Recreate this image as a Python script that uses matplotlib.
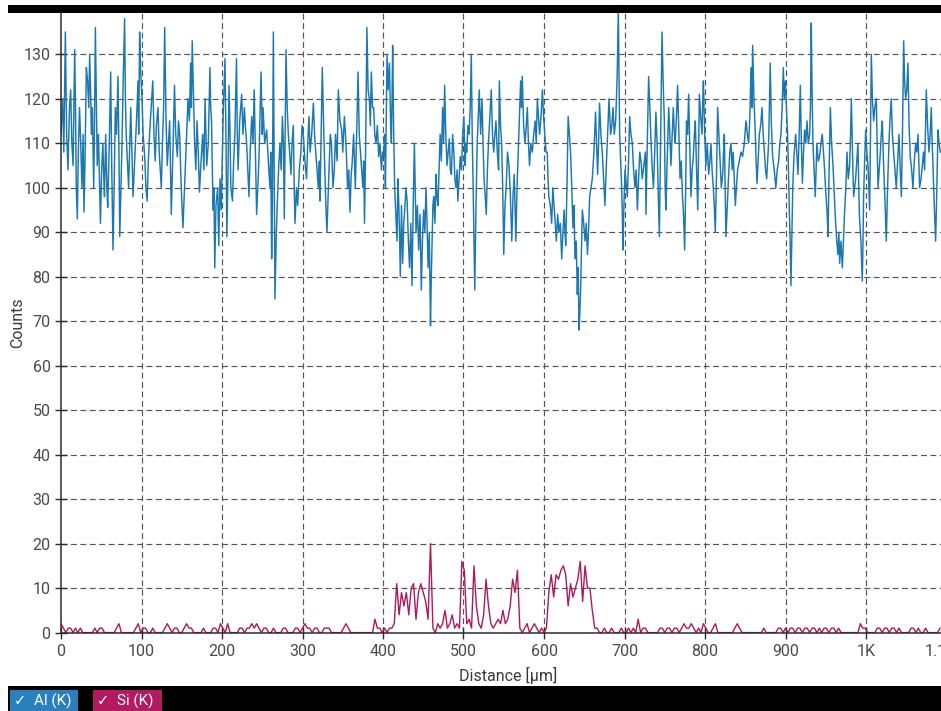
import matplotlib
matplotlib.use("Agg")
import matplotlib.pyplot as plt
from matplotlib.patches import Rectangle
from matplotlib.ticker import FixedLocator
from matplotlib.transforms import ScaledTranslation
import numpy as np

plt.rcParams["font.family"] = ["Roboto", "DejaVu Sans"]

# ---- Al (K) line profile: distance [µm] and counts -------------------------
al_distance = [
    0, 2, 3.5, 5.4, 7, 8.7, 10.5, 12, 13.5, 15,
    17, 18, 19, 20.3, 21.5, 23, 24.5, 26, 27.5, 28.6,
    30, 31.5, 33, 34.5, 35.6, 37, 37.7, 39, 40.6, 41.5,
    42.7, 44, 45, 46.5, 48, 49, 50.5, 52, 53, 54,
    55.5, 57, 58, 60, 61.7, 63, 64.6, 66, 67.5, 69,
    70.8, 72, 73, 74.5, 75.8, 77, 79, 80, 81, 82.5,
    84, 85.5, 86.6, 88, 89.5, 91, 92.4, 94, 95.7, 96.5,
    97.7, 99, 100.6, 102, 104, 105.5, 107, 108.5, 110, 112,
    114, 115.5, 117, 118.5, 120.5, 122, 124.6, 126, 127.5, 128.8,
    130.5, 132, 133.5, 135, 136, 137, 139, 141, 142.5, 144.5,
    146, 147.4, 149, 150.5, 151.5, 153, 154.5, 156, 157.8, 159.5,
    161, 162, 163, 164.5, 166, 167.5, 169, 170.5, 172, 174,
    176, 177.5,
    179, 181, 183, 185, 186, 187, 188, 189, 190, 191,
    192.5, 194.6, 196, 197.5, 199, 200.5, 201.7, 203.7, 205, 206,
    207.5, 208.7, 210, 211, 213, 214.5, 216, 217, 218, 219,
    220, 222, 224.4, 226, 227.8, 229, 230.6, 232, 233.5, 235,
    236.9, 238.5, 240, 241.5, 243, 244.5, 246, 247.5, 248.5, 250,
    251, 253, 255.5, 257.5, 259.6, 260.5, 261.7, 262.5, 263.8, 264.8,
    265.8, 267.5, 269, 270.5, 272, 273.5, 275, 276.3, 277.4, 278.5,
    279.5, 281, 282.4, 284, 285.7, 287, 288.6, 289.7, 290.7, 292.5,
    294, 296, 298, 299.5, 301, 303, 305, 306.5, 308, 309.5,
    311.4, 313.5, 315, 316.4, 318, 319.7, 321, 321.7, 323, 324.6,
    326.5, 328, 329, 330.4, 331.8, 333, 334.5, 336, 337.8, 339.5,
    341, 343, 344.5, 346.5, 348.6, 350, 352, 354, 356, 357.5,
    359, 360.5,
    361.5, 363.5, 365.6, 367, 369, 370.5, 372, 373.5, 375, 376,
    377, 378.5, 380, 381.5, 383, 384.3, 385.5, 387, 388.4, 389.8,
    391.3, 393, 394.6, 396.3, 398, 399.5, 401, 402, 403, 404,
    405, 406.5, 408, 409.3, 410.4, 411.2, 412, 413.3, 414.5, 416,
    417.4, 418.5, 419.5, 420.5, 421.5, 423, 424.4, 425.8, 427, 428.5,
    430, 431.5, 433, 434.5, 436, 437.5, 439, 440, 441, 442.7,
    444.3, 446, 447.6, 449, 450.5, 452, 453.4, 454.7, 456, 457.5,
    459, 460, 461, 462, 463, 464.5, 466, 467, 468.3, 469.7,
    471, 472.5, 474, 475.3, 476.6, 478, 479.5, 481, 482.4, 483.7,
    485, 486.5, 488, 489.3, 490.7, 492, 493, 494.5, 496, 497.5,
    499, 500.5, 502, 503, 504, 505.5, 507, 508.3, 509.7, 510.8,
    512, 513, 514, 515.5, 517, 518.3, 519.6, 521.3, 523, 524.3,
    525.5, 527, 528.3, 529.7, 531, 532.7, 534.5, 536, 537.5, 539,
    540.3, 542, 543.6,
    544.5, 546, 547.4, 548.7, 550, 551.5, 553, 554.7, 556.5, 558.3,
    560, 561.5, 563, 564, 565, 566.5, 568, 569.5, 571, 572,
    573, 574.7, 576.4, 578, 579.3, 580.7, 582, 583.7, 585.5, 587.2,
    589, 590.4, 591.7, 593.2, 594.6, 596.3, 598, 599.5, 601, 602.5,
    604, 605, 606, 607.8, 609.5, 611, 612.4, 614, 615.3, 617,
    618.6, 620.3, 622, 623.5, 625, 626, 627, 628.5, 630, 631.5,
    633, 634.5, 636, 637.3, 638.5, 640, 641.4, 642.5, 643.5, 644.5,
    645.5, 646.5, 647.6, 649.3, 651, 652.5, 654, 655.3, 656.7, 658.3,
    660, 662, 664, 665.3, 666.6, 667.8, 669, 670.7, 672.4, 674,
    675.7, 677.2, 678.6, 679.7, 680.7, 681.8, 682.8, 684.3, 685.7, 687.3,
    689, 690, 691, 692.3, 693.2, 694, 695.3, 696.5, 697.3, 698,
    699.3, 700.6, 702, 703.5, 705, 706.4, 708, 709.7, 711.3, 713,
    714.5, 716, 717.5, 719, 720.5, 722, 724, 726,
    726.7, 728.3, 730, 731.5, 733, 734.5, 736, 737.5, 739, 740.5,
    742, 743.3, 745, 746.6, 748, 749.5, 750.5, 751.5, 753, 754.9,
    756.3, 757.7, 759.2, 760.6, 762, 763, 764.5, 766, 767.5, 769,
    770.5, 772, 773.3, 774.7, 776, 777, 778.3, 779.7, 781, 782.6,
    784, 785.5, 786.8, 788, 789.5, 791, 792, 793, 794.6, 796.3,
    797, 798, 799.6, 801.2, 802.8, 804.5, 806, 807.4, 808.8, 810.3,
    811.5, 812.8, 814.2, 815.7, 817.2, 818.6, 820.3, 822, 823, 824,
    825, 826, 827.7, 829.4, 830.8, 832.3, 833.7, 835, 836.3, 837.7,
    839, 840.5, 842.6, 844.7, 846.7, 848.8, 850, 851, 852.6, 854.2,
    855.7, 857.1, 858.2, 859.2, 860.8, 862.5, 863.5, 864.6, 866, 867.5,
    869.2, 870.8, 872.3, 873.7, 875.2, 876.6, 877.8, 879, 880, 881,
    882.5, 884, 886, 888, 889.7, 891.5, 893, 894.4, 895.8, 897.3,
    898.5, 899.8, 901.2, 902.6, 903.7, 904.7, 905.8, 906.8, 908, 909,
    910.5, 912.6, 914, 915.5, 917, 918.4, 919.7, 921, 922.4, 923.8,
    925.2, 926.7, 928.3, 930, 931, 932, 933, 934.1, 935.5, 937,
    938, 939, 940.7, 942.4, 944, 945.7, 947.2, 948.6, 949.7, 950.7,
    951.8, 952.8, 954.2, 955.7, 957.3, 959, 960.7, 962.3, 963.7, 965.2,
    966.3, 967.3, 968.9, 970.6, 972, 973.5, 975, 976.4, 978, 979.7,
    980.8, 981.8, 983.2, 984.6, 985.8, 987.1, 988.5, 990, 991, 992,
    993.7, 995.4, 996.3, 997, 998.3, 999.6, 1001, 1002.5, 1003.5, 1004.5,
    1005.5, 1006.6, 1008, 1009.5, 1011, 1012.8, 1014, 1015, 1016.4, 1017.8,
    1019, 1020.3, 1021.7, 1023, 1024, 1025.2, 1026.8, 1028.5, 1030, 1031.4,
    1032.8, 1034.3, 1036, 1037.6, 1039.3, 1041, 1042.5, 1043.9, 1045.3, 1046.8,
    1048, 1049.2, 1050.7, 1052.1, 1053.5, 1055, 1056.7, 1058.3, 1060, 1061.7,
    1063.2, 1064.6, 1065.6, 1066.6, 1068.3, 1070, 1071.4, 1072.8, 1073.8, 1074.9,
    1076.5, 1078.2, 1079.7, 1081.1, 1082.2, 1083.2, 1084.8, 1086.5, 1088, 1089.4,
    1090.8, 1092.3,
]

al_counts = [
    112, 120, 108, 135, 112, 104, 118, 122, 110, 105,
    131, 118, 100, 93, 108, 118, 110, 100, 112, 94.5,
    108, 127, 124, 118, 130, 120, 112, 118, 100, 112,
    136, 118, 105, 112, 100, 92, 104, 110, 103, 98,
    112, 100, 95.6, 110, 126, 105, 86, 100, 118, 112,
    125, 108, 89, 100, 110, 122, 138, 120, 112, 106,
    100, 110, 118, 108, 98, 104, 110, 116, 124, 112,
    135, 126, 120, 112, 107, 100, 97, 106, 112, 118,
    124, 112, 106, 114, 118, 108, 100, 110, 118, 136,
    115, 105, 110, 115, 104, 94, 108, 123, 112, 107,
    115, 112, 102, 95, 91, 98, 105, 112, 120, 115,
    128, 118, 133, 122, 110, 104, 115, 108, 99, 106,
    112, 104,
    120, 105, 110, 127, 118, 115, 104, 95, 100, 82,
    96, 100, 87, 102, 95, 108, 118, 129, 110, 89,
    104, 123, 112, 100, 97, 106, 112, 120, 129, 112,
    104, 115, 121, 112, 118, 114, 110, 104, 98, 108,
    116, 110, 122, 108, 94, 100, 107, 118, 126, 112,
    118, 110, 113, 106, 100, 108, 84, 96, 135, 104,
    75, 90, 98, 105, 110, 104, 116, 110, 93, 112,
    131, 118, 112, 108, 103, 110, 114, 100, 92, 100,
    96, 104, 108, 114, 112, 106, 102, 110, 116, 108,
    112, 119, 112, 108, 104, 100, 106, 97, 110, 127,
    112, 102, 96, 90, 98, 104, 112, 110, 100, 104,
    112, 106, 122, 115, 113, 108, 116, 110, 100, 104,
    94.5, 103,
    105, 112, 100, 110, 126, 112, 108, 104, 100, 106,
    92, 110, 136, 122, 120, 114, 126, 118, 118, 112,
    110, 114, 107, 110, 104, 108, 107, 112, 100, 116,
    130, 122, 128, 116, 110, 120, 132, 112, 100, 94,
    88, 102, 97, 90, 80, 96, 83, 92, 95, 100,
    97, 88, 82, 92, 78, 96, 110, 100, 90, 96,
    86, 94, 77, 88, 95, 90, 100, 92, 82, 90,
    69, 80, 88, 96, 98, 92, 103, 98, 96, 104,
    112, 106, 118, 110, 123, 112, 105, 108, 111, 104,
    103, 112, 108, 102, 100, 104, 97, 102, 107, 104,
    112, 116, 105, 110, 108, 114, 112, 118, 130, 112,
    100, 88, 77, 96, 110, 116, 122, 112, 120, 110,
    102, 98, 94, 104, 110, 116, 122, 112, 108, 112,
    115, 108, 104,
    124, 114, 110, 100, 85, 96, 100, 108, 105, 98,
    88, 98, 103, 96, 88, 100, 108, 116, 124, 118,
    125, 114, 110, 114, 118, 110, 105, 110, 108, 112,
    115, 110, 120, 116, 112, 116, 122, 116, 112, 108,
    108, 102, 98, 96, 92, 100, 96, 92, 88, 94,
    90, 92, 84, 90, 95, 90, 87, 100, 116, 112,
    108, 100, 91, 96, 84, 88, 76, 82, 68, 72,
    77, 86, 95, 92, 88, 92, 85, 90, 98, 100,
    102, 108, 117, 110, 103, 110, 119, 112, 108, 102,
    96, 104, 110, 115, 120, 116, 112, 114, 118, 112,
    115, 120, 126, 140, 124, 112, 106, 100, 94, 86,
    96, 104, 101, 98, 106, 116, 112, 110, 104, 100,
    104, 95, 102, 108, 106, 102, 105, 108,
    94, 110, 125, 118, 110, 104, 100, 108, 117, 110,
    98, 89, 112, 135, 124, 115, 100, 95, 106, 118,
    112, 105, 112, 118, 112, 110, 116, 123, 112, 102,
    106, 98, 94, 86, 100, 115, 112, 121, 110, 98,
    104, 107, 112, 115, 104, 95, 108, 121, 116, 112,
    118, 124, 112, 105, 110, 103, 106, 110, 104, 100,
    96, 90, 102, 118, 112, 106, 100, 103, 108, 112,
    100, 89, 96, 103, 108, 110, 104, 108, 102, 96,
    100, 104, 106, 108, 107, 110, 113, 115, 112, 110,
    116, 127, 118, 132, 120, 112, 106, 101, 106, 112,
    114, 118, 112, 108, 104, 102, 106, 110, 118, 128,
    114, 107, 104, 100, 104, 106, 110, 112, 118, 127,
    120, 124, 118, 112, 104, 95, 88, 78, 90, 100,
    107, 112, 108, 103, 112, 123, 110, 101, 108, 113,
    110, 115, 110, 112, 118, 137, 122, 110, 104, 98,
    104, 110, 106, 107, 110, 112, 108, 104, 100, 97,
    94, 89, 104, 118, 110, 105, 98, 92, 88, 85,
    90, 83, 88, 82, 88, 95, 100, 108, 102, 105,
    112, 120, 108, 98, 100, 102, 106, 110, 100, 93,
    88, 79, 88, 98, 106, 113, 108, 105, 100, 95,
    110, 130, 120, 115, 118, 120, 108, 100, 104, 108,
    112, 115, 106, 100, 95, 88, 100, 110, 116, 120,
    112, 108, 104, 100, 106, 112, 104, 98, 112, 133,
    124, 120, 122, 128, 114, 107, 104, 100, 106, 110,
    108, 112, 106, 100, 102, 105, 108, 104, 112, 122,
    114, 108, 112, 118, 110, 105, 96, 88, 100, 113,
    110, 108,
]

# ---- Si (K) line profile: one reading every 3 µm starting at 0 ---------------
si_step_um = 3.0
si_counts = [
    2, 1, 0, 1, 1, 0, 1, 0, 1, 0,        # 0 - 27
    0, 0, 0, 0, 1, 0, 1, 1, 0, 0,        # 30 - 57
    0, 0, 0, 1, 2, 0, 0, 0, 0, 0,        # 60 - 87
    0, 1, 2, 0, 1, 1, 0, 0, 1, 0,        # 90 - 117
    0, 0, 0, 1, 2, 1, 0, 1, 1, 0,        # 120 - 147
    0, 1, 2, 1, 1, 0, 0, 0, 0, 1,        # 150 - 177
    0, 0, 0, 1, 1, 0, 2, 1, 0, 2,        # 180 - 207
    0, 0, 0, 0, 1, 1, 0, 1, 1, 2,        # 210 - 237
    1, 2, 1, 0, 1, 1, 0, 0, 1, 0,        # 240 - 267
    0, 0, 1, 1, 0, 0, 0, 1, 1, 0,        # 270 - 297
    1, 2, 1, 1, 0, 1, 1, 0, 0, 1,        # 300 - 327
    1, 1, 0, 0, 0, 0, 0, 1, 2, 1,        # 330 - 357
    0, 0, 0, 0, 0, 0, 0, 0, 0, 0,        # 360 - 387
    3, 1, 1, 0, 1, 0, 1, 1, 2, 11,       # 390 - 417
    4, 9, 6, 9, 4, 10, 11, 3, 9, 11,     # 420 - 447
    9, 7, 3, 20, 1, 0, 2, 1, 2, 5,       # 450 - 477
    1, 2, 4, 1, 2, 1, 16, 14, 2, 3,      # 480 - 507
    1, 15, 6, 2, 1, 4, 12, 6, 2, 1,      # 510 - 537
    2, 3, 2, 5, 2, 3, 6, 12, 9, 14,      # 540 - 567
    1, 0, 1, 2, 0, 1, 2, 1, 0, 1,        # 570 - 597
    0, 1, 9, 13, 8, 13, 12, 14, 15, 13,  # 600 - 627
    6, 11, 8, 10, 12, 16, 7, 15, 10, 10, # 630 - 657
    5, 1, 1, 0, 0, 1, 0, 0, 1, 0,        # 660 - 687
    0, 0, 1, 0, 0, 1, 0, 1, 0, 3,        # 690 - 717
    0, 1, 1, 0, 0, 0, 0, 0, 1, 1,        # 720 - 747
    0, 1, 1, 0, 1, 1, 0, 1, 2, 1,        # 750 - 777
    1, 2, 1, 0, 1, 0, 2, 1, 0, 0,        # 780 - 807
    1, 2, 0, 0, 0, 0, 0, 0, 0, 1,        # 810 - 837
    2, 1, 0, 0, 0, 0, 0, 0, 0, 0,        # 840 - 867
    0, 1, 0, 0, 0, 0, 0, 1, 1, 0,        # 870 - 897
    1, 0, 1, 1, 0, 1, 1, 0, 1, 1,        # 900 - 927
    0, 1, 1, 0, 1, 0, 1, 1, 0, 1,        # 930 - 957
    1, 0, 1, 0, 0, 0, 0, 0, 0, 0,        # 960 - 987
    0, 2, 1, 1, 0, 0, 0, 0, 1, 1,        # 990 - 1017
    0, 1, 1, 0, 1, 1, 0, 1, 0, 0,        # 1020 - 1047
    0, 0, 1, 1, 0, 1, 0, 0, 1, 0,        # 1050 - 1077
    0, 0, 0, 0, 1,                       # 1080 - 1092
]

x_ticks = [0, 100, 200, 300, 400, 500, 600, 700, 800, 900, 1000, 1100]
x_tick_labels = ["0", "100", "200", "300", "400", "500", "600", "700",
                 "800", "900", "1K", "1.1K"]
y_ticks = list(range(0, 140, 10))

series_names = ["Al (K)", "Si (K)"]
series_colors = ["#1b78b0", "#b0175c"]
legend_fill = ["#2a80bd", "#b31a60"]

# ---------------------------------------------------------------------------
W, H = 941, 711
fig = plt.figure(figsize=(W / 100, H / 100), dpi=100)
fig.patch.set_facecolor("white")

# plot area in pixel coordinates
ax_left, ax_right = 61.0, 946.5
ax_top, ax_bottom = 13.3, 632.6
ax = fig.add_axes([ax_left / W, (H - ax_bottom) / H,
                   (ax_right - ax_left) / W, (ax_bottom - ax_top) / H])

al_d = np.asarray(al_distance, dtype=float)
al_c = np.asarray(al_counts, dtype=float)
si_c = np.asarray(si_counts, dtype=float)
si_d = np.arange(len(si_c)) * si_step_um

ax.plot(al_d, al_c, color=series_colors[0], lw=1.05, zorder=3)
ax.plot(si_d, si_c, color=series_colors[1], lw=1.0, zorder=4)

ax.set_xlim(0, 1100)
ax.set_ylim(0, 139.2)

ax.xaxis.set_major_locator(FixedLocator(x_ticks))
ax.set_xticklabels(x_tick_labels)
ax.yaxis.set_major_locator(FixedLocator(y_ticks))
ax.set_yticklabels([str(v) for v in y_ticks])

grid_kw = dict(color="#555555", lw=0.85, ls=(0, (5, 3)), zorder=1)
for xv in x_ticks[1:]:
    ax.axvline(xv, **grid_kw)
for yv in y_ticks[1:]:
    ax.axhline(yv, **grid_kw)

for side in ("top", "right"):
    ax.spines[side].set_visible(False)
for side in ("left", "bottom"):
    ax.spines[side].set_color("#2b2b2b")
    ax.spines[side].set_linewidth(1.1)
    ax.spines[side].set_zorder(5)

ax.tick_params(axis="both", direction="inout", length=8, width=1.0,
               color="#2b2b2b", labelsize=11.5, labelcolor="#4a4a4a")
ax.tick_params(axis="y", pad=3.5)
ax.tick_params(axis="x", pad=4.5)

# the last distance label sits partly past the right edge; nudge it inward
last_label = ax.get_xticklabels()[-1]
last_label.set_transform(last_label.get_transform() +
                         ScaledTranslation(-6 / 100, 0, fig.dpi_scale_trans))

ax.set_xlabel("Distance [µm]", fontsize=11.5, color="#3a3a3a")
ax.xaxis.set_label_coords((508 - ax_left) / (ax_right - ax_left),
                          (ax_bottom - 667) / (ax_bottom - ax_top))
ax.set_ylabel("Counts", fontsize=11.5, color="#3a3a3a")
ax.yaxis.set_label_coords((25 - ax_left) / (ax_right - ax_left),
                          (ax_bottom - 323) / (ax_bottom - ax_top))

# dark header strip above the plot
fig.patches.append(Rectangle((8 / W, (H - 13.3) / H), 1 - 8 / W, 8.3 / H,
                             transform=fig.transFigure, facecolor="black",
                             edgecolor="none", zorder=10))
# dark footer strip holding the series toggles
fig.patches.append(Rectangle((8 / W, 0), 1 - 8 / W, (H - 685.5) / H,
                             transform=fig.transFigure, facecolor="black",
                             edgecolor="none", zorder=10))
toggle_boxes = [(10, 78), (93, 162)]
for (x0, x1), name, fill in zip(toggle_boxes, series_names, legend_fill):
    fig.patches.append(Rectangle((x0 / W, 0), (x1 - x0) / W, (H - 690) / H,
                                 transform=fig.transFigure, facecolor=fill,
                                 edgecolor="none", zorder=11))
    fig.text((x0 + 4) / W, (H - 701) / H, "\u2713", color="white",
             fontsize=10.5, va="center", ha="left", zorder=12,
             family=["DejaVu Sans"])
    fig.text((x0 + 24) / W, (H - 701) / H, name, color="white",
             fontsize=11, va="center", ha="left", zorder=12)

fig.savefig("out.png", dpi=100)
